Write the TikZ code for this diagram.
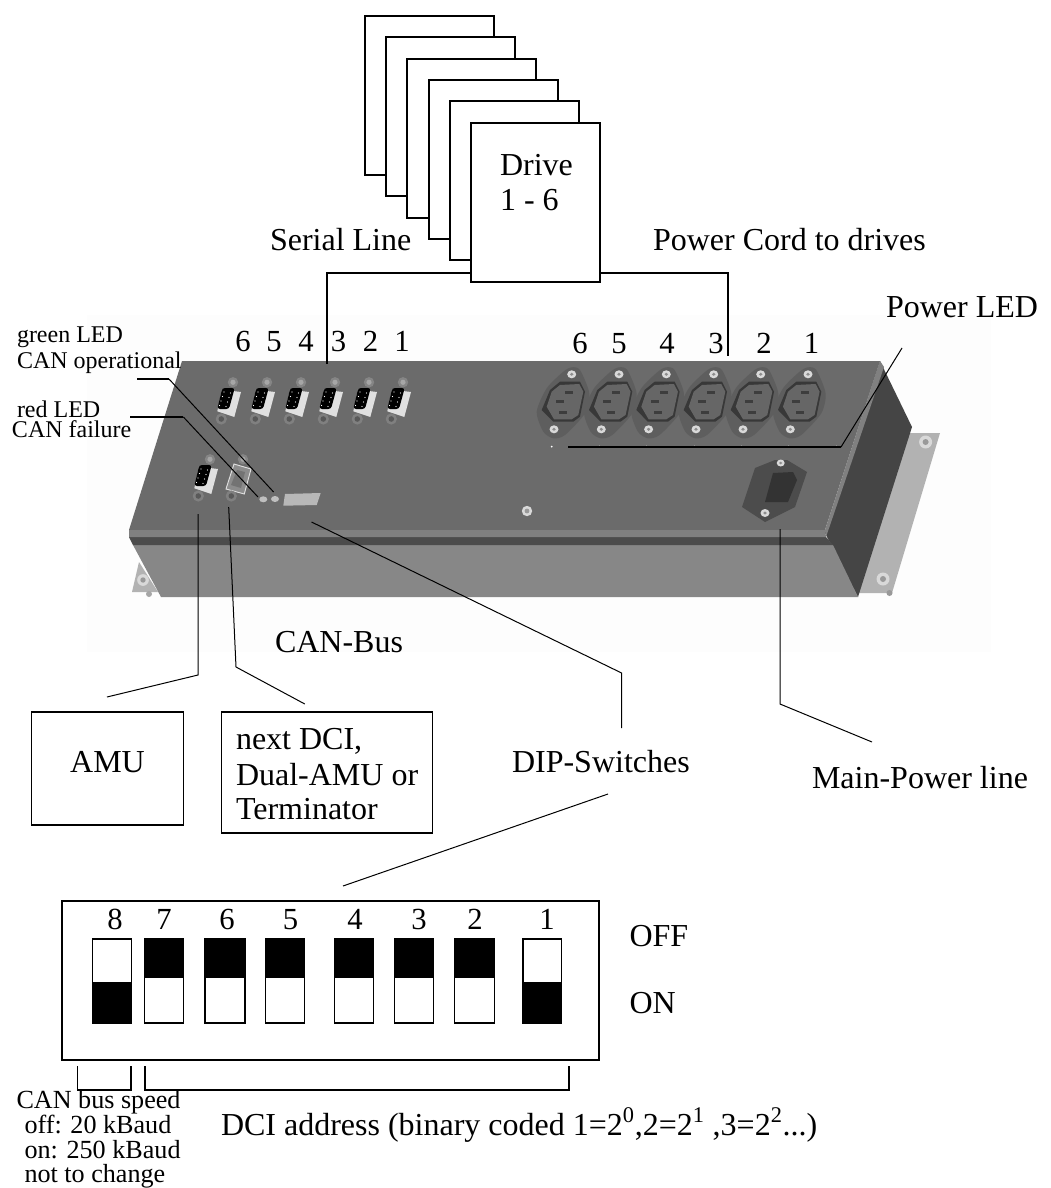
\documentclass[tikz,border=0pt]{standalone}
\usepackage{fontspec}
\setmainfont{Liberation Serif}
\usetikzlibrary{calc}
\newcommand{\fsbig}{\fontsize{24}{24}\selectfont}
\newcommand{\fsnum}{\fontsize{23}{23}\selectfont}
\newcommand{\fsled}{\fontsize{18}{18}\selectfont}
\newcommand{\fscan}{\fontsize{19.6}{20}\selectfont}
\definecolor{caseTop}{gray}{0.42}
\definecolor{caseBevel}{gray}{0.50}
\definecolor{caseFront}{gray}{0.53}
\definecolor{caseStripe}{gray}{0.30}
\definecolor{caseSide}{gray}{0.27}
\definecolor{casePlate}{gray}{0.70}
\tikzset{
  lbl/.style={inner sep=0pt,outer sep=0pt,anchor=base west,font=\fsbig},
  numlbl/.style={inner sep=0pt,outer sep=0pt,anchor=base,font=\fsnum},
  ledlbl/.style={inner sep=0pt,outer sep=0pt,anchor=base west,font=\fsled},
  canlbl/.style={inner sep=0pt,outer sep=0pt,anchor=base west,font=\fscan},
  boxn/.style={draw=black,line width=1.1pt,fill=white,inner sep=0pt,outer sep=0pt},
  wire/.style={draw=black,line width=1.1pt},
  thinwire/.style={draw=black,line width=0.75pt},
  sw/.style={draw=black,line width=1.1pt,fill=white},
  dbcon/.pic={
    \fill[black!48] (5,-20.7) circle (5.2);
    \fill[black!35] (5,-20.7) circle (2.6);
    \fill[black!12] (-6,-13.3) -- (13,-11) -- (6.3,14) -- (-10.7,8.3) -- cycle;
    \fill[black!50] (-6.7,16) circle (5.6);
    \fill[black!65] (-6.7,16) circle (2.8);
    \fill[black,rounded corners=2] (-5.7,-15) -- (6.7,-15) -- (1,6) -- (-10.7,6) -- cycle;
    \foreach \p in {(-4,-11),(-5.5,-6.5),(-7,-2),(-8.5,2.5),(2.5,-10),(1,-5.5),(-0.5,-1),(-2,3.5)}
      \fill[white] \p circle (0.6);
  },
  dbopen/.pic={
    \fill[black!48] (5,-20.7) circle (5.2);
    \fill[black!35] (5,-20.7) circle (2.6);
    \fill[black!45,draw=black!12,line width=0.7pt] (-4,-16) -- (13,-11) -- (6.3,14) -- (-12,9) -- cycle;
    \fill[black!55] (-1,-10) -- (7,-8) -- (3,8) -- (-7,5) -- cycle;
    \fill[black!50] (-6.7,16) circle (5.6);
    \fill[black!65] (-6.7,16) circle (2.8);
  },
  iec/.pic={
    \fill[black!63] plot[smooth cycle,tension=0.45] coordinates {(0.3,-30.3) (8.7,-34.7) (17,-32) (26.3,-8.7) (22,11.3) (2,33) (-9.7,36.3) (-19.7,29.7) (-26.3,9.7) (-16.3,-13.7)};
    \fill[black!78] (-3,-20.3) -- (17,-20.3) -- (22,-10.3) -- (17,14.7) -- (10.3,19.7) -- (-9.7,19.7) -- (-21.3,8) -- (-13,-12) -- cycle;
    \fill[black!60] (-3,-17) -- (16.3,-18) -- (20.3,-10.3) -- (15.3,13) -- (8.7,17.3) -- (-9,17.3) -- (-16.3,4.7) -- (-11.3,-10.3) -- cycle;
    \foreach \px/\py in {6/-9.7,-3/-0.3,0.3/10}
      \fill[black!76] (\px-4,\py-1.5) rectangle (\px+4,\py+1.5);
    \fill[black!15] (8.7,-27.7) ellipse (4.5 and 4);
    \fill[black!45] (8.7,-27.7) ellipse (1.8 and 1.6);
    \fill[black!15] (-9,27.3) ellipse (4.5 and 4);
    \fill[black!45] (-9,27.3) ellipse (1.8 and 1.6);
  },
  screwb/.pic={
    \fill[black!15] (0,0) ellipse (6.5 and 6.5);
    \fill[black!40] (0,0) ellipse (3 and 3);
  }
}
\begin{document}
\begin{tikzpicture}[x=0.75pt,y=-0.75pt]
\useasboundingbox (0,0) rectangle (1050,1188);
\fill[white] (0,0) rectangle (1050,1188);
% faint backdrop of the photo
\fill[black!0.8] (87,315) rectangle (991,652);
% mounting plates
\fill[casePlate] (909,433) -- (940,433) -- (892,593) -- (858,593) -- cycle;
\fill[casePlate] (139,562) -- (132,592) -- (158,592) -- cycle;
\pic at (925.6,442) {screwb};
\pic at (883,579) {screwb};
\pic[scale=0.9] at (143,580) {screwb};
\fill[black!40] (889.5,593) circle (3);
\fill[black!35] (149,594) circle (3);
% case
\fill[caseSide] (880,361) -- (912,427) -- (858,597) -- (825,533) -- cycle;
\fill[caseFront] (133,545) -- (833,545) -- (858,597) -- (161,597) -- cycle;
\fill[caseStripe] (129,537) -- (826,537) -- (833,545) -- (133,545) -- cycle;
\fill[caseTop] (182,361) -- (880,361) -- (825,530) -- (129,530) -- cycle;
\fill[caseBevel] (129,530) -- (825,530) -- (826,537) -- (129,537) -- cycle;
\fill[caseBevel] (880,361) -- (825,530) -- (826,537) -- (884,367) -- cycle;
% serial connectors
\foreach \cx in {228,262,296,330,364,398} \pic at (\cx,403) {dbcon};
\pic at (205,480) {dbcon};
\pic at (238,480) {dbopen};
% LEDs and DIP window
\fill[black!25] (263.3,499.3) ellipse (4 and 3);
\fill[black!25] (275,499) ellipse (4 and 3);
\fill[black!28] (285,494) -- (320.7,493) -- (316.7,505) -- (283.3,505.7) -- cycle;
\pic[scale=0.8] at (527,511) {screwb};
% power sockets
\foreach \cx in {563,610.3,657.6,705,752,799.3} \pic at (\cx,402) {iec};
\fill[white] (551.7,446.7) circle (1);
\foreach \tx in {599,646,693.5,741,788,836} \fill[black!45] (\tx,445) rectangle (\tx+1,447);
% mains inlet
\fill[black!70] (755,468) -- (775,460) -- (787,460) -- (807,472) -- (795,507) -- (765,522) -- (742,507) -- cycle;
\fill[black!80] (773,473) -- (793,472) -- (797,480) -- (788,502) -- (765,502) -- cycle;
\fill[black!15] (780.7,463) ellipse (4 and 3.5);
\fill[black!15] (765,513) ellipse (4.5 and 4);
\fill[black!45] (780.7,463) ellipse (1.6 and 1.4);
\fill[black!45] (765,513) ellipse (1.8 and 1.6);

% drive stack
\node[boxn,minimum width=96.75pt,minimum height=119.25pt] (d1) at (429.5,95.5) {};
\node[boxn,minimum width=96.75pt,minimum height=119.25pt] (d2) at (450.5,116.5) {};
\node[boxn,minimum width=96.75pt,minimum height=119.25pt] (d3) at (471.5,138.5) {};
\node[boxn,minimum width=96.75pt,minimum height=119.25pt] (d4) at (493.5,159.5) {};
\node[boxn,minimum width=96.75pt,minimum height=119.25pt] (d5) at (514.5,180.5) {};
\node[boxn,minimum width=96.75pt,minimum height=119.25pt] (drive) at (535.5,202.5) {};
\node[lbl] (drivetxt) at (500,175) {Drive};
\node[lbl] (driverange) at (500,210) {1 - 6};
\node[lbl] (seriallbl) at (270,250) {Serial Line};
\node[lbl] (powerlbl) at (653,250) {Power Cord to drives};

% connector numbers
\foreach \n/\cx in {6/243,5/274,4/306,3/338.5,2/370.6,1/402}
  \node[numlbl] (s\n) at (\cx,351) {\n};
\foreach \n/\cx in {6/580,5/619,4/667,3/716,2/764,1/811.6}
  \node[numlbl] (p\n) at (\cx,353) {\n};

% drive wiring
\coordinate (serialend) at (327,364);
\coordinate (powerend) at (728,356);
\draw[wire] (drive.west |- 0,273) -| (serialend);
\draw[wire] (drive.east |- 0,273) -| (powerend);

% LED labels
\node[ledlbl] (greenlbl) at (17,342) {green LED};
\node[ledlbl] (canop) at (17,368) {CAN operational};
\node[ledlbl] (redlbl) at (17,417) {red LED};
\node[ledlbl] (canfail) at (12,437) {CAN failure};
\coordinate (greenstart) at (137,379);
\coordinate (greenbend) at (169,379);
\coordinate (greenled) at (273.6,492);
\coordinate (redstart) at (130,417);
\coordinate (redbend) at (183.4,417);
\coordinate (redled) at (258,497);
\draw[wire] (greenstart) -- (greenbend);
\draw[thinwire] (greenbend) -- (greenled);
\draw[wire] (redstart) -- (redbend);
\draw[thinwire] (redbend) -- (redled);

% power LED
\node[lbl] (powerled) at (886,317) {Power LED};
\coordinate (pledstart) at (568,447);
\coordinate (pledbend) at (841,447);
\coordinate (pledend) at (902,348);
\draw[wire] (pledstart) -- (pledbend);
\draw[thinwire] (pledbend) -- (pledend);

% CAN bus
\node[lbl] (canbus) at (275,652) {CAN-Bus};
\node[boxn,minimum width=114pt,minimum height=84.75pt] (amu) at (107.5,768.5) {};
\node[lbl,anchor=base] (amutxt) at (107.5,772) {AMU};
\node[boxn,minimum width=158.25pt,minimum height=90.75pt] (nextdci) at (327.2,772.5) {};
\node[lbl] (nd1) at (236,749) {next DCI,};
\node[lbl] (nd2) at (236,785) {Dual-AMU or};
\node[lbl] (nd3) at (236,819) {Terminator};
\coordinate (amutop) at (198,514);
\coordinate (amubend) at (198,675);
\coordinate (amuend) at (107,697);
\coordinate (dcitop) at (228.7,507);
\coordinate (dcibend) at (236,667);
\coordinate (dciend) at (304.8,704);
\draw[thinwire] (amutop) -- (amubend) -- (amuend);
\draw[thinwire] (dcitop) -- (dcibend) -- (dciend);

% DIP-switch pointers
\node[lbl] (diplbl) at (512,772) {DIP-Switches};
\coordinate (dipstart) at (311.5,522);
\coordinate (dipbend) at (621.6,673);
\coordinate (dipend) at (621.6,728);
\draw[thinwire] (dipstart) -- (dipbend) -- (dipend);
\coordinate (dipa) at (608,794);
\coordinate (dipb) at (343,886);
\draw[thinwire] (dipa) -- (dipb);

% main power
\node[lbl] (mainlbl) at (812,788) {Main-Power line};
\coordinate (mainstart) at (780,529);
\coordinate (mainbend) at (780,704);
\coordinate (mainend) at (872,742);
\draw[thinwire] (mainstart) -- (mainbend) -- (mainend);

% DIP block
\node[boxn,minimum width=402.75pt,minimum height=119.25pt] (dipblock) at (330.5,980.5) {};
\foreach \n/\cx in {8/115,7/164,6/227,5/290.6,4/355,3/419,2/475,1/547}
  \node[numlbl] (dn\n) at (\cx,929) {\n};
% switches: ON position (lower half black)
\foreach \l/\r in {92.4/131.7,523/561.6} {
  \draw[sw] (\l,939) rectangle (\r,983);
  \fill[black,draw=black,line width=1.1pt] (\l,983) rectangle (\r,1023);
}
% switches: OFF position (upper half black)
\foreach \l/\r in {144.6/183.5,205/245,265.6/304.5,334.4/373.7,394.6/433.5,454.5/494.6} {
  \draw[sw] (\l,977) rectangle (\r,1023);
  \fill[black,draw=black,line width=1.1pt] (\l,939) rectangle (\r,977);
}
\node[lbl] (offlbl) at (629.5,946) {OFF};
\node[lbl] (onlbl) at (629.5,1013) {ON};
% brackets
\coordinate (b1a) at (77.7,1066);
\coordinate (b1b) at (131,1066);
\coordinate (b2a) at (145,1066);
\coordinate (b2b) at (569,1066);
\draw[wire] (b1a) -- (b1a |- 0,1090) -- (b1b |- 0,1090) -- (b1b);
\draw[wire] (b2a) -- (b2a |- 0,1090) -- (b2b |- 0,1090) -- (b2b);
\node[canlbl] (c1) at (16.5,1108) {CAN bus speed};
\node[canlbl] (c2) at (24.5,1133.5) {off: 20 kBaud};
\node[canlbl] (c3) at (24.5,1158) {on: 250 kBaud};
\node[canlbl] (c4) at (24.5,1182) {not to change};
\node[lbl] (addr) at (221,1135) {DCI address (binary coded 1=2\textsuperscript{0},2=2\textsuperscript{1} ,3=2\textsuperscript{2}...)};
\end{tikzpicture}
\end{document}
